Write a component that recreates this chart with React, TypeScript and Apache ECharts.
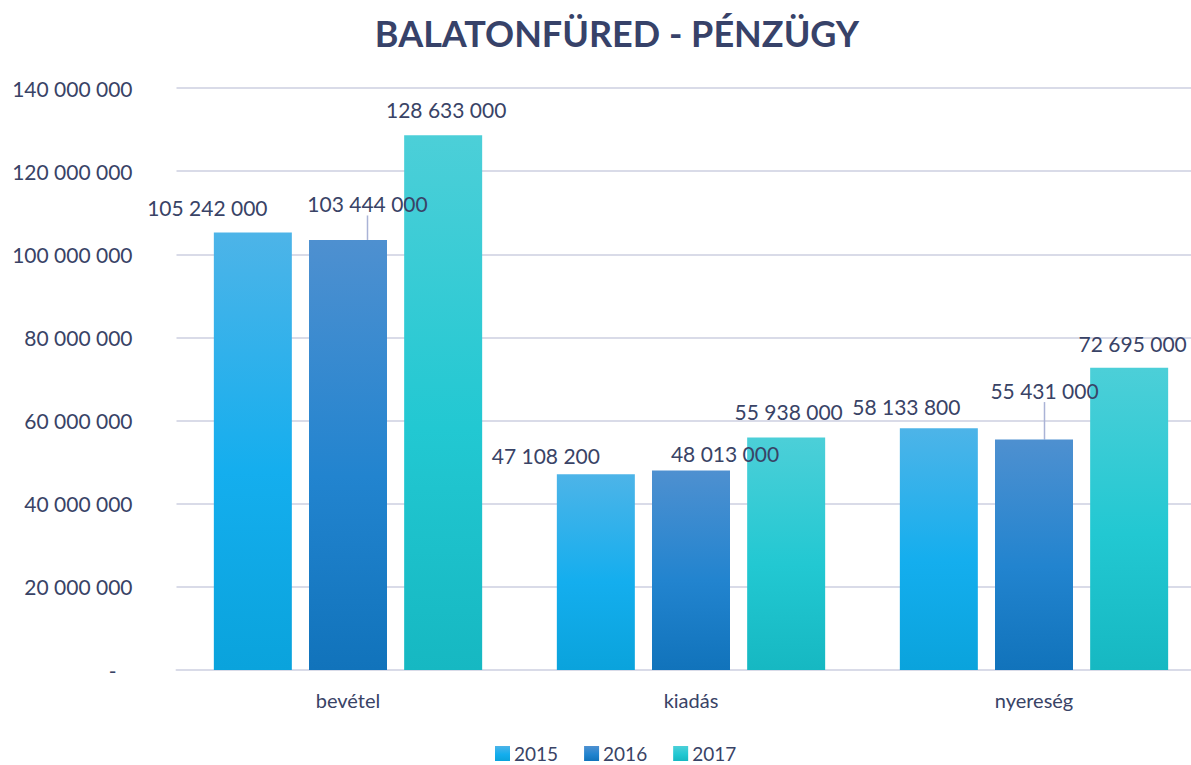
import React, { useEffect, useRef } from "react";
import * as echarts from "echarts";

const titleText = "BALATONFÜRED - PÉNZÜGY";
const categories = ["bevétel", "kiadás", "nyereség"];
const years = ["2015", "2016", "2017"];
const values2015 = [105242000, 47108200, 58133800];
const values2016 = [103444000, 48013000, 55431000];
const values2017 = [128633000, 55938000, 72695000];

// label nudges (style only): [dx, dy] per series / data index
const labelNudges = [
  [[-45.5, -8], [-50, -2], [-32.5, -4.5]],
  [[19.5, -19.5], [34, 0], [10.5, -32.5]],
  [[3, -8.5], [2.5, -8.5], [3.5, -7.5]],
];
const leaderLines = [
  [false, false, false],
  [true, false, true],
  [false, false, false],
];

const TEXT = "#394366";
const FONT = "Lato";

function fmt(v: number): string {
  if (v === 0) return "-";
  return String(Math.round(v)).replace(/\B(?=(\d{3})+(?!\d))/g, " ");
}

function grad(top: string, mid: string, bottom: string) {
  return new echarts.graphic.LinearGradient(0, 0, 0, 1, [
    { offset: 0, color: top },
    { offset: 0.55, color: mid },
    { offset: 1, color: bottom },
  ]);
}

export default function App() {
  const ref = useRef<HTMLDivElement>(null);
  useEffect(() => {
    document.body.style.margin = "0";
    const chart = echarts.init(ref.current!, null, { renderer: "svg" });
    const colors = [
      grad("#4db4e8", "#14aeee", "#0aa3dc"),
      grad("#4e90d0", "#2284cf", "#1173bb"),
      grad("#4ccfd8", "#22c8d2", "#16b8c2"),
    ];
    const seriesData = [values2015, values2016, values2017];
    const series = seriesData.map((vals, si) => ({
      name: years[si],
      type: "bar",
      barWidth: 78,
      barGap: "22%",
      itemStyle: { color: colors[si] },
      data: vals.map((v, di) => ({
        value: v,
        labelLine: { show: leaderLines[si][di] },
      })),
      label: {
        show: true,
        position: "top",
        distance: 5,
        formatter: (p: any) => fmt(p.value),
        color: TEXT,
        fontFamily: FONT,
        fontSize: 21,
        lineHeight: 24,
      },
      labelLine: {
        show: false,
        lineStyle: { color: "#aab3d6", width: 1.5 },
      },
      labelLayout: (p: any) => {
        const n = labelNudges[p.seriesIndex][p.dataIndex];
        return { dx: n[0], dy: n[1] };
      },
    }));
    chart.setOption({
      animation: false,
      title: {
        text: titleText,
        left: 612,
        textAlign: "center",
        top: 10,
        textStyle: {
          color: "#374269",
          fontFamily: FONT,
          fontWeight: "bold",
          fontSize: 36,
        },
      },
      legend: {
        data: years,
        left: 495,
        top: 744,
        padding: 0,
        itemWidth: 15,
        itemHeight: 15,
        itemGap: 26,
        icon: "rect",
        textStyle: { color: TEXT, fontFamily: FONT, fontSize: 19, lineHeight: 16, padding: [0, 0, 0, -1] },
      },
      grid: {
        left: 176.5,
        width: 1029,
        top: 88,
        bottom: 95,
        containLabel: false,
        outerBoundsMode: "none",
      },
      xAxis: {
        type: "category",
        data: categories,
        axisLine: { lineStyle: { color: "#d9dbe8", width: 2 } },
        axisTick: { show: false },
        axisLabel: { color: TEXT, fontFamily: FONT, fontSize: 20, margin: 20 },
      },
      yAxis: {
        type: "value",
        min: 0,
        max: 140000000,
        interval: 20000000,
        axisLine: { show: false },
        axisTick: { show: false },
        splitLine: { lineStyle: { color: "#d9dbe8", width: 2 } },
        axisLabel: {
          color: TEXT,
          fontFamily: FONT,
          fontSize: 21,
          margin: 44,
          formatter: (v: number) => (v === 0 ? "{d|-}" : fmt(v)),
          rich: { d: { color: TEXT, fontFamily: FONT, fontSize: 21, padding: [0, 16, 0, 0] } },
        },
      },
      series,
    } as any);
    return () => chart.dispose();
  }, []);
  return (
    <div
      ref={ref}
      style={{ position: "absolute", left: 0, top: 0, width: 1191, height: 765, background: "#fff" }}
    />
  );
}
